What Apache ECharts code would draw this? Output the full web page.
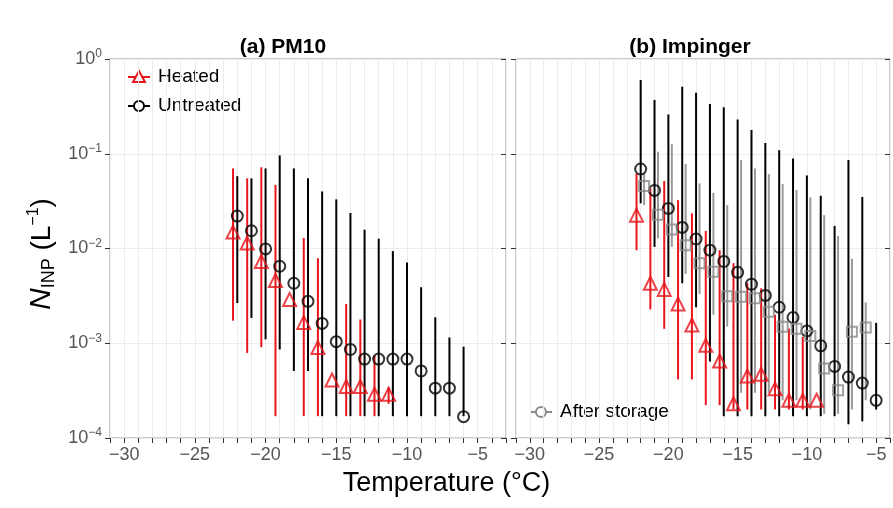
<!DOCTYPE html>
<html>
<head>
<meta charset="utf-8">
<script src="https://cdn.jsdelivr.net/npm/echarts@6/dist/echarts.min.js"></script>
<style>html,body{margin:0;padding:0;background:#fff}#chart{width:893px;height:508px}</style>
</head>
<body>
<div id="chart"></div>
<script>
// panel (a) PM10
const aHeatT = [-22.3, -21.3, -20.3, -19.3, -18.3, -17.3, -16.3, -15.3, -14.3, -13.3, -12.3, -11.3]
const aHeatV = [0.0149, 0.0114, 0.0073, 0.0046, 0.0029, 0.00166, 0.0009, 0.00041, 0.00035, 0.00035, 0.00029, 0.00029]
const aHeatHi = [0.070, 0.055, 0.072, 0.047, 0.0029, 0.0129, 0.0079, 0.00041, 0.0026, 0.00178, 0.00074, 0.00034]
const aHeatLo = [0.00173, 0.00079, 0.00091, 0.00017, 0.0029, 0.00017, 0.00017, 0.00041, 0.00017, 0.00017, 0.00017, 0.00023]
const aUntrT = [-22, -21, -20, -19, -18, -17, -16, -15, -14, -13, -12, -11, -10, -9, -8, -7, -6]
const aUntrV = [0.022, 0.0154, 0.0099, 0.0065, 0.0043, 0.00277, 0.00162, 0.00104, 0.00086, 0.00068, 0.00068, 0.00068, 0.00068, 0.00051, 0.000336, 0.000336, 0.000168]
const aUntrHi = [0.058, 0.055, 0.070, 0.096, 0.070, 0.055, 0.040, 0.033, 0.0237, 0.0158, 0.0127, 0.0094, 0.0071, 0.0039, 0.00188, 0.00115, 0.00092]
const aUntrLo = [0.00266, 0.00185, 0.0011, 0.00086, 0.00051, 0.00051, 0.00017, 0.00017, 0.00017, 0.00017, 0.00017, 0.00017, 0.00017, 0.00017, 0.00017, 0.00017, 0.00017]
// panel (b) Impinger
const bHeatT = [-22.3, -21.3, -20.3, -19.3, -18.3, -17.3, -16.3, -15.3, -14.3, -13.3, -12.3, -11.3, -10.3, -9.3]
const bHeatV = [0.0225, 0.0043, 0.0037, 0.0026, 0.00156, 0.00095, 0.00065, 0.00023, 0.00045, 0.00047, 0.00033, 0.00025, 0.00025, 0.00025]
const bHeatHi = [0.062, 0.043, 0.0515, 0.0324, 0.0235, 0.0153, 0.0096, 0.0070, 0.0043, 0.0038, 0.0020, 0.00143, 0.00117, 0.00025]
const bHeatLo = [0.0096, 0.00228, 0.00142, 0.000415, 0.000415, 0.000222, 0.000222, 0.0002, 0.0002, 0.0002, 0.0002, 0.0002, 0.0002, 0.00025]
const bUntrT = [-22, -21, -20, -19, -18, -17, -16, -15, -14, -13, -12, -11, -10, -9, -8, -7, -6, -5]
const bUntrV = [0.069, 0.041, 0.0265, 0.0167, 0.0126, 0.0096, 0.0073, 0.0056, 0.0042, 0.0032, 0.0024, 0.00187, 0.00135, 0.00094, 0.00057, 0.00044, 0.00038, 0.00025]
const bUntrHi = [0.60, 0.37, 0.26, 0.51, 0.44, 0.335, 0.31, 0.23, 0.178, 0.13, 0.109, 0.089, 0.059, 0.036, 0.0173, 0.086, 0.035, 0.00164]
const bUntrLo = [0.03, 0.0104, 0.0050, 0.0043, 0.0024, 0.00064, 0.00017, 0.00017, 0.00017, 0.00017, 0.00017, 0.00017, 0.00017, 0.00017, 0.00017, 0.00014, 0.00015, 0.0002]
const bStorT = [-21.75, -20.75, -19.75, -18.75, -17.75, -16.75, -15.75, -14.75, -13.75, -12.75, -11.75, -10.75, -9.75, -8.75, -7.75, -6.75, -5.75]
const bStorV = [0.0456, 0.0227, 0.0159, 0.0108, 0.0070, 0.0057, 0.00314, 0.00309, 0.00299, 0.00215, 0.00149, 0.00142, 0.00119, 0.00054, 0.00032, 0.00132, 0.00147]
const bStorHi = [0.063, 0.105, 0.126, 0.078, 0.0487, 0.0387, 0.0287, 0.0858, 0.070, 0.061, 0.0479, 0.0414, 0.0346, 0.0225, 0.0136, 0.0078, 0.0027]
const bStorLo = [0.0287, 0.0128, 0.0104, 0.0054, 0.0033, 0.0020, 0.0015, 0.0003, 0.0003, 0.0003, 0.00025, 0.00025, 0.0002, 0.00018, 0.00018, 0.0002, 0.00025]

const xTicks = [-30, -25, -20, -15, -10, -5]

const RED = '#e8151b'
const BLACK = '#000'
const GRAY = '#8a8a8a'
const FONT = 'Helvetica, Arial, sans-serif'

const chart = echarts.init(document.getElementById('chart'))

const zip = (t, v) => t.map((x, i) => [x, v[i]])
const zip3 = (t, lo, hi) => t.map((x, i) => [x, lo[i], hi[i]])

function errBars (idx, t, lo, hi, color) {
  return {
    type: 'custom',
    xAxisIndex: idx,
    yAxisIndex: idx,
    silent: true,
    z: 1,
    data: zip3(t, lo, hi),
    renderItem: (params, api) => {
      const p1 = api.coord([api.value(0), api.value(1)])
      const p2 = api.coord([api.value(0), api.value(2)])
      return {
        type: 'line',
        shape: { x1: p1[0], y1: p1[1], x2: p2[0], y2: p2[1] },
        style: { stroke: color, lineWidth: 2 }
      }
    }
  }
}

function points (idx, t, v, color, symbol, size) {
  return {
    type: 'scatter',
    xAxisIndex: idx,
    yAxisIndex: idx,
    data: zip(t, v),
    symbol: symbol,
    symbolSize: size,
    z: 3,
    itemStyle: { color: 'rgba(255,255,255,0)', borderColor: color, borderWidth: 2 }
  }
}

const supLabel = v => {
  const e = Math.round(Math.log10(v))
  return '10{s|' + (e === 0 ? '0' : '\u2212' + (-e)) + '}'
}

function xAxis (idx, min, max) {
  return {
    type: 'value',
    gridIndex: idx,
    min: min,
    max: max,
    interval: 1,
    axisLine: { show: false },
    axisTick: { interval: (i, v) => xTicks.includes(+v), length: 5, lineStyle: { color: '#333' } },
    axisLabel: {
      interval: (i, v) => xTicks.includes(+v),
      formatter: v => xTicks.includes(v) ? (v < 0 ? '\u2212' + (-v) : String(v)) : '',
      color: '#555', fontSize: 18, margin: 8, fontFamily: FONT
    },
    splitLine: { show: true, lineStyle: { color: '#ececec', width: 1 } }
  }
}

function yAxis (idx, showLabels, side) {
  return {
    type: 'log',
    logBase: 10,
    gridIndex: idx,
    position: side,
    min: 0.0001,
    max: 1,
    axisLine: { show: false },
    axisTick: { show: true, inside: side === 'right', length: 5, lineStyle: { color: '#333' } },
    axisLabel: {
      show: showLabels,
      formatter: supLabel,
      color: '#555', fontSize: 18, margin: 8, fontFamily: FONT,
      rich: { s: { fontSize: 12, verticalAlign: 'top', padding: [0, 0, 10, 0], color: '#555' } }
    },
    splitLine: { show: side === 'left', lineStyle: { color: '#ececec', width: 1 } }
  }
}

function legendItem (x, y, color, symbol, label) {
  const items = [{
    type: 'line',
    shape: { x1: x, y1: y, x2: x + 22, y2: y },
    style: { stroke: color, lineWidth: 2 }
  }]
  if (symbol === 'circle') {
    items.push({ type: 'circle', shape: { cx: x + 11, cy: y, r: 5 }, style: { fill: '#fff', stroke: color, lineWidth: 2 } })
  } else {
    items.push({ type: 'polygon', shape: { points: [[x + 11, y - 6], [x + 17, y + 5], [x + 5, y + 5]] }, style: { fill: '#fff', stroke: color, lineWidth: 2 } })
  }
  items.push({ type: 'text', x: x + 30, y: y, style: { text: label, fontSize: 19, fill: '#000', fontFamily: FONT, verticalAlign: 'middle' } })
  return items
}

const option = {
  animation: false,
  backgroundColor: '#fff',
  grid: [
    { left: 110, top: 59, width: 396, height: 379, show: true, borderColor: '#999', borderWidth: 1, backgroundColor: '#fff' },
    { left: 516, top: 59, width: 376, height: 379, show: true, borderColor: '#999', borderWidth: 1, backgroundColor: '#fff' }
  ],
  xAxis: [xAxis(0, -31, -3), xAxis(1, -31, -4)],
  yAxis: [yAxis(0, true, 'left'), yAxis(1, false, 'left'), yAxis(0, false, 'right'), yAxis(1, false, 'right')],
  title: [
    { text: '(a) PM10', left: 278, top: 32, textAlign: 'center', textStyle: { fontSize: 21, fontWeight: 'bold', color: '#000', fontFamily: FONT } },
    { text: '(b) Impinger', left: 685, top: 32, textAlign: 'center', textStyle: { fontSize: 21, fontWeight: 'bold', color: '#000', fontFamily: FONT } }
  ],
  graphic: [
    {
      type: 'text', x: 26, y: 310, rotation: Math.PI / 2,
      style: {
        text: '{n|N}{sub|INP} (L{sup|\u22121})',
        fill: '#000', fontSize: 28, fontFamily: FONT,
        rich: {
          n: { fontSize: 30, fontStyle: 'italic' },
          sub: { fontSize: 18, verticalAlign: 'bottom', padding: [14, 0, 0, 0] },
          sup: { fontSize: 16, verticalAlign: 'top', padding: [0, 0, 14, 0] }
        }
      }
    },
    {
      type: 'text', left: 'center', top: 470,
      style: { text: 'Temperature (\u00b0C)', fontSize: 27, fill: '#000', fontFamily: FONT }
    },
    ...legendItem(128, 77, RED, 'triangle', 'Heated'),
    ...legendItem(128, 106, BLACK, 'circle', 'Untreated'),
    ...legendItem(530, 412, GRAY, 'circle', 'After storage')
  ],
  series: [
    errBars(0, aUntrT, aUntrLo, aUntrHi, BLACK),
    errBars(0, aHeatT, aHeatLo, aHeatHi, RED),
    points(0, aUntrT, aUntrV, BLACK, 'circle', 11),
    points(0, aHeatT, aHeatV, RED, 'triangle', 13),
    errBars(1, bUntrT, bUntrLo, bUntrHi, BLACK),
    errBars(1, bStorT, bStorLo, bStorHi, '#9a9a9a'),
    errBars(1, bHeatT, bHeatLo, bHeatHi, RED),
    points(1, bUntrT, bUntrV, BLACK, 'circle', 11),
    points(1, bStorT, bStorV, GRAY, 'rect', 10),
    points(1, bHeatT, bHeatV, RED, 'triangle', 13)
  ]
}
chart.setOption(option)
</script>
</body>
</html>
